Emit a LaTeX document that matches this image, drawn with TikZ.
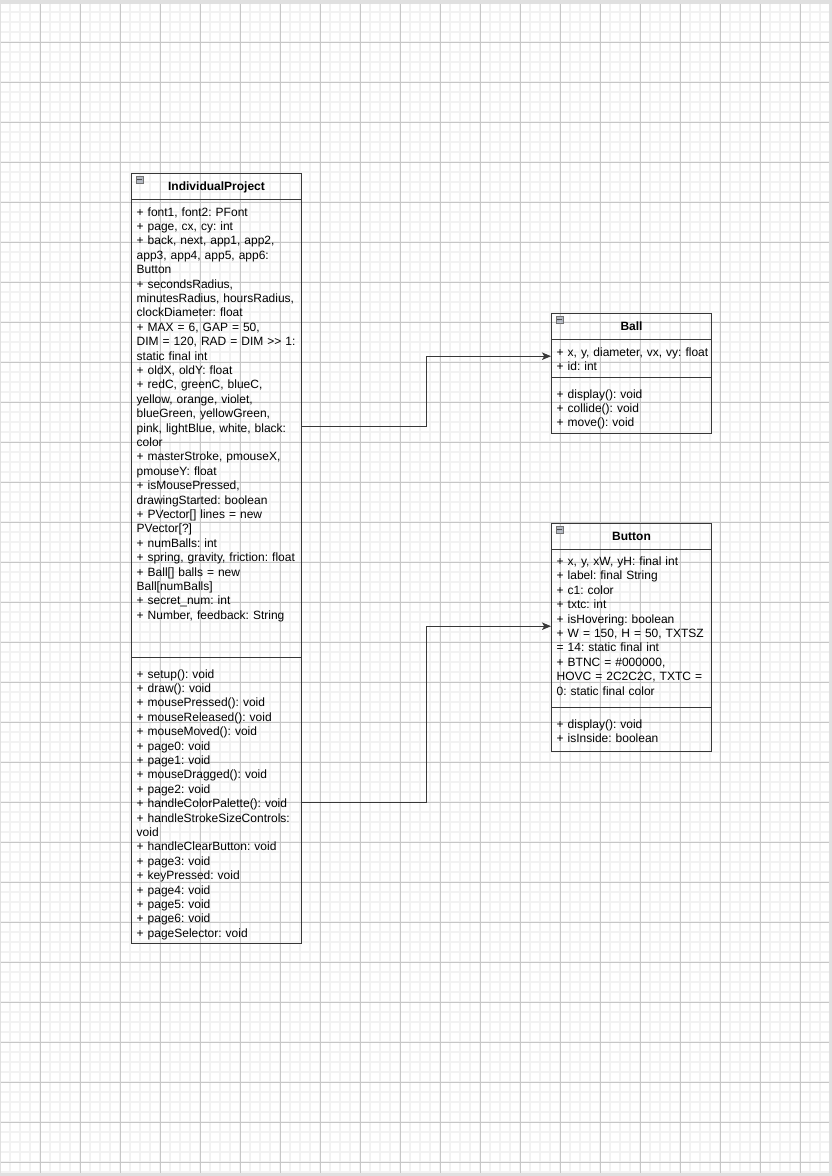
\documentclass[tikz,border=0pt]{standalone}
\usepackage{fontspec}
\setmainfont{Liberation Sans}
\usetikzlibrary{arrows.meta}
\frenchspacing

\definecolor{iconfill}{HTML}{B4B9C2}

\begin{document}
\begin{tikzpicture}[x=1pt, y=-1pt,
  umlline/.style={draw=black!78, line width=1pt},
  classpart/.style={anchor=north west, inner sep=0pt, minimum width=#1},
  classhead/.style={classpart=#1, umlline, minimum height=26,
    font=\bfseries\fontsize{12}{14.4}\selectfont, text height=8.6pt, text depth=0pt},
  members/.style={anchor=base west, inner sep=0pt, align=left, text width=200pt,
    font=\fontsize{12}{14.4}\selectfont},
  minusicon/.style={draw=black!55, fill=iconfill, line width=0.7pt, minimum size=7pt,
    inner sep=0pt, path picture={\draw[black!70, line width=1.1pt]
      ([xshift=1.2pt]path picture bounding box.west) -- ([xshift=-1.2pt]path picture bounding box.east);}},
  assoc/.style={draw=black!78, line width=1pt, -{Stealth[length=9pt, width=7.5pt, inset=2.2pt]}}
]

% Page and grid
\useasboundingbox (0,0) rectangle (832,1176);
\fill[black!12] (0,0) rectangle (832,1176);
\fill[white] (1,3.5) rectangle (829,1172.5);
\foreach \gx in {10,20,...,820}
  \draw[black!5, line width=1.3pt] (\gx,3.5) -- (\gx,1172.5);
\foreach \gy in {12,22,...,1172}
  \draw[black!5, line width=1.3pt] (1,\gy) -- (829,\gy);
\foreach \gx in {40,80,...,800}
  \draw[black!22, line width=0.8pt] (\gx,3.5) -- (\gx,1172.5);
\foreach \gy in {42,82,...,1162}
  \draw[black!22, line width=0.8pt] (1,\gy) -- (829,\gy);

% IndividualProject
\node[classpart=170, umlline, minimum height=770] (ip) at (131,173) {};
\node[classhead=170] (iphead) at (131,173) {IndividualProject};
\node[minusicon] (ipminus) at (139.5,179.5) {};
\node[classpart=170, minimum height=454] (ipattr) at (131,199) {};
\node[classpart=170, minimum height=282] (ipops) at (131,661) {};
\draw[umlline] (131,657) -- (301,657);
\node[members] (ipattrtext) at (136.5,216) {+ font1, font2: PFont\\
  + page, cx, cy: int\\
  + back, next, app1, app2,\\
  app3, app4, app5, app6:\\
  Button\\
  + secondsRadius,\\
  minutesRadius, hoursRadius,\\
  clockDiameter: float\\
  + MAX = 6, GAP = 50,\\
  DIM = 120, RAD = DIM >\kern0pt> 1:\\
  static final int\\
  + oldX, oldY: float\\
  + redC, greenC, blueC,\\
  yellow, orange, violet,\\
  blueGreen, yellowGreen,\\
  pink, lightBlue, white, black:\\
  color\\
  + masterStroke, pmouseX,\\
  pmouseY: float\\
  + isMousePressed,\\
  drawingStarted: boolean\\
  + PVector[] lines = new\\
  PVector[?]\\
  + numBalls: int\\
  + spring, gravity, friction: float\\
  + Ball[] balls = new\\
  Ball[numBalls]\\
  + secret\_num: int\\
  + Number, feedback: String};
\node[members] (ipopstext) at (136.5,678) {+ setup(): void\\
  + draw(): void\\
  + mousePressed(): void\\
  + mouseReleased(): void\\
  + mouseMoved(): void\\
  + page0: void\\
  + page1: void\\
  + mouseDragged(): void\\
  + page2: void\\
  + handleColorPalette(): void\\
  + handleStrokeSizeControls:\\
  void\\
  + handleClearButton: void\\
  + page3: void\\
  + keyPressed: void\\
  + page4: void\\
  + page5: void\\
  + page6: void\\
  + pageSelector: void};

% Ball
\node[classpart=160, umlline, minimum height=120] (ball) at (551,313) {};
\node[classhead=160] (ballhead) at (551,313) {Ball};
\node[minusicon] (ballminus) at (559.5,319.5) {};
\node[classpart=160, minimum height=34] (ballattr) at (551,339) {};
\node[classpart=160, minimum height=52] (ballops) at (551,381) {};
\draw[umlline] (551,377) -- (711,377);
\node[members] (ballattrtext) at (556.5,356) {+ x, y, diameter, vx, vy: float\\
  + id: int};
\node[members] (ballopstext) at (556.5,398) {+ display(): void\\
  + collide(): void\\
  + move(): void};

% Button
\node[classpart=160, umlline, minimum height=228] (btn) at (551,523) {};
\node[classhead=160] (btnhead) at (551,523) {Button};
\node[minusicon] (btnminus) at (559.5,529.5) {};
\node[classpart=160, minimum height=154] (btnattr) at (551,549) {};
\node[classpart=160, minimum height=40] (btnops) at (551,711) {};
\draw[umlline] (551,707) -- (711,707);
\node[members] (btnattrtext) at (556.5,565.5) {+ x, y, xW, yH: final int\\
  + label: final String\\
  + c1: color\\
  + txtc: int\\
  + isHovering: boolean\\
  + W = 150, H = 50, TXTSZ\\
  = 14: static final int\\
  + BTNC = \#000000,\\
  HOVC = 2C2C2C, TXTC =\\
  0: static final color};
\node[members] (btnopstext) at (556.5,728) {+ display(): void\\
  + isInside: boolean};

% Associations
\draw[assoc] (ipattr.east) -- ++(125,0) |- (ballattr.west);
\draw[assoc] (ipops.east) -- ++(125,0) |- (btnattr.west);

\end{tikzpicture}
\end{document}
